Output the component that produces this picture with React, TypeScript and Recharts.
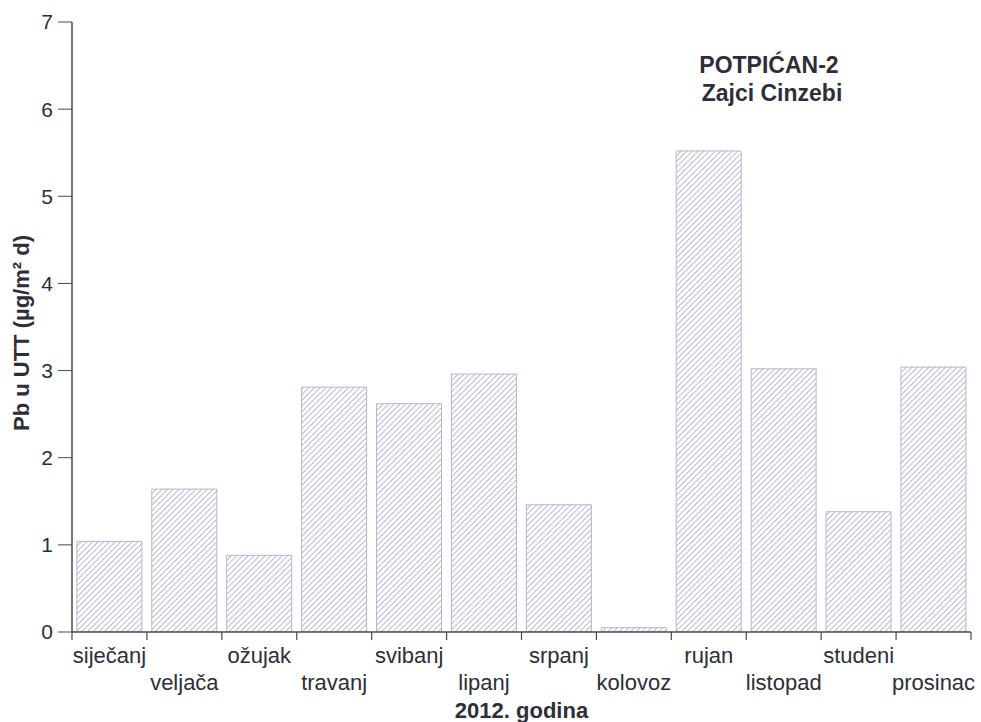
import React from "react";
import { BarChart, Bar, XAxis, YAxis, Label } from "recharts";

// Monthly Pb deposition in total suspended matter, station POTPIĆAN-2 (Zajci Cinzebi), 2012
const months = [
  "siječanj", "veljača", "ožujak", "travanj", "svibanj", "lipanj",
  "srpanj", "kolovoz", "rujan", "listopad", "studeni", "prosinac",
];
const pbValues = [1.04, 1.64, 0.88, 2.81, 2.62, 2.96, 1.46, 0.05, 5.52, 3.02, 1.38, 3.04];
const yTicks = [0, 1, 2, 3, 4, 5, 6, 7];

const data = months.map((m, i) => ({ month: m, pb: pbValues[i] }));

const W = 981;
const H = 722;
const MARGIN = { top: 22, right: 10, bottom: 0, left: 0 };
const Y_AXIS_W = 72;
const X_AXIS_H = 90;
const PLOT_W = W - MARGIN.left - MARGIN.right - Y_AXIS_W;
const STEP = PLOT_W / months.length;
const FONT = "'Liberation Sans', Arial, Helvetica, sans-serif";
const TEXT = "#2e2e38";
const AXIS = "#4a4a4a";

// Month labels alternate between two rows; tick marks sit on the category boundaries
const MonthTick = (props: any) => {
  const { x, y, payload, index } = props;
  const last = index === months.length - 1;
  return (
    <g>
      <line x1={x - STEP / 2} x2={x - STEP / 2} y1={y} y2={y + 8} stroke={AXIS} strokeWidth={1.2} />
      {last && (
        <line x1={x + STEP / 2} x2={x + STEP / 2} y1={y} y2={y + 8} stroke={AXIS} strokeWidth={1.2} />
      )}
      <text
        x={x}
        y={y + (index % 2 === 0 ? 31 : 58)}
        textAnchor="middle"
        fontFamily={FONT}
        fontSize={22}
        fill={TEXT}
      >
        {payload.value}
      </text>
    </g>
  );
};

const YTitle = (props: any) => {
  const { viewBox } = props;
  const cx = 21;
  const cy = viewBox.y + viewBox.height / 2 + 6;
  return (
    <text
      x={cx}
      y={cy}
      transform={`rotate(-90, ${cx}, ${cy})`}
      textAnchor="middle"
      dominantBaseline="central"
      fontFamily={FONT}
      fontSize={22}
      fontWeight="bold"
      fill={TEXT}
    >
      Pb u UTT (µg/m² d)
    </text>
  );
};

export default function App() {
  return (
    <div style={{ position: "absolute", left: 0, top: 0, width: W, height: H, background: "#fff" }}>
      <BarChart width={W} height={H} data={data} margin={MARGIN} barCategoryGap="6.5%">
        <defs>
          <pattern
            id="hatch"
            patternUnits="userSpaceOnUse"
            width={4}
            height={4}
            patternTransform="rotate(45)"
          >
            <line x1={0} y1={0} x2={0} y2={4} stroke="#9a9ac2" strokeWidth={1.4} />
          </pattern>
        </defs>
        <XAxis
          dataKey="month"
          interval={0}
          height={X_AXIS_H}
          tickLine={false}
          tickSize={0}
          tickMargin={0}
          tick={<MonthTick />}
          axisLine={{ stroke: AXIS, strokeWidth: 1.5 }}
        >
          <Label
            value="2012. godina"
            position="insideBottom"
            offset={4}
            style={{ fontFamily: FONT, fontSize: 22, fontWeight: "bold", fill: TEXT }}
          />
        </XAxis>
        <XAxis
          xAxisId="top"
          orientation="top"
          dataKey="month"
          height={0}
          tick={false}
          tickLine={false}
          axisLine={{ stroke: "#8a8a8a", strokeWidth: 1.2 }}
        />
        <YAxis
          domain={[0, 7]}
          ticks={yTicks}
          width={Y_AXIS_W}
          tickSize={14}
          tickMargin={5}
          tick={{ fontFamily: FONT, fontSize: 21, fill: TEXT }}
          tickLine={{ stroke: AXIS, strokeWidth: 1 }}
          axisLine={{ stroke: AXIS, strokeWidth: 1.5 }}
          allowDataOverflow
        >
          <Label content={<YTitle />} />
        </YAxis>
        <YAxis
          yAxisId="right"
          orientation="right"
          domain={[0, 7]}
          width={0}
          tick={false}
          tickLine={false}
          axisLine={{ stroke: "#8a8a8a", strokeWidth: 1.2 }}
        />
        <Bar
          dataKey="pb"
          fill="url(#hatch)"
          stroke="#b4b4d4"
          strokeWidth={1}
          isAnimationActive={false}
        />
      </BarChart>
      <svg
        width={W}
        height={H}
        style={{ position: "absolute", left: 0, top: 0, pointerEvents: "none" }}
      >
        <text x={769} y={73} textAnchor="middle" fontFamily={FONT} fontSize={23} fontWeight="bold" fill={TEXT}>
          POTPIĆAN-2
        </text>
        <text x={772} y={101} textAnchor="middle" fontFamily={FONT} fontSize={23} fontWeight="bold" fill={TEXT}>
          Zajci Cinzebi
        </text>
      </svg>
    </div>
  );
}
